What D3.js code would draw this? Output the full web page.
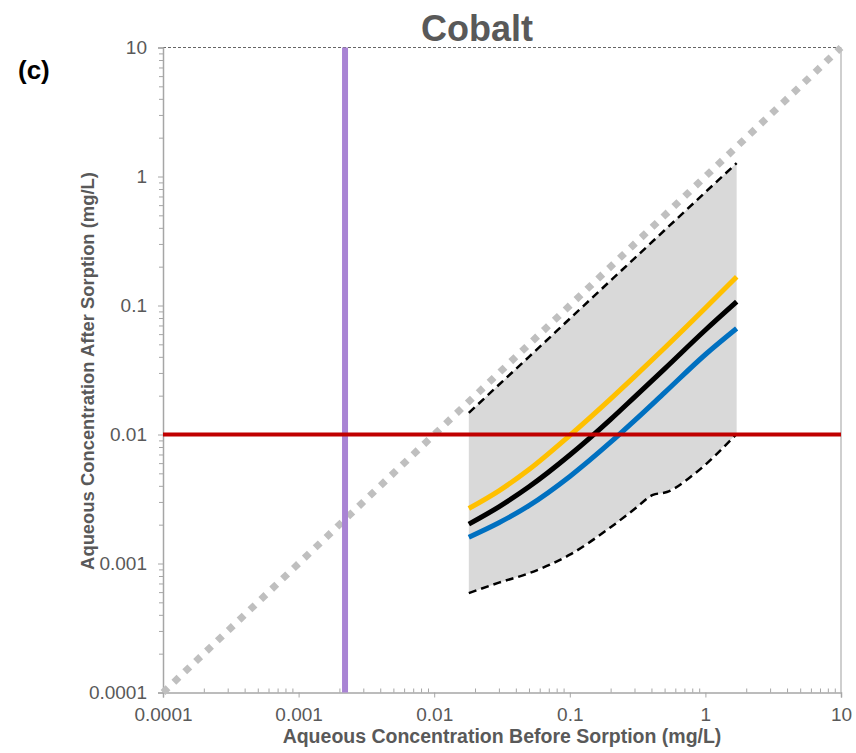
<!DOCTYPE html>
<html><head><meta charset="utf-8">
<script src="https://cdn.jsdelivr.net/npm/d3@7"></script>
<style>body{margin:0;background:#fff}svg{display:block;font-family:"Liberation Sans",Arial,sans-serif}</style>
</head><body><svg id="c" width="856" height="753"></svg>
<script>
// ---- data ----
const xTicks = [0.0001, 0.001, 0.01, 0.1, 1, 10];
const xTickLabels = ["0.0001", "0.001", "0.01", "0.1", "1", "10"];
const yTicks = [0.0001, 0.001, 0.01, 0.1, 1, 10];
const yTickLabels = ["0.0001", "0.001", "0.01", "0.1", "1", "10"];
const curveX = [0.018, 0.03, 0.05, 0.1, 0.2, 0.3, 0.5, 1.0, 1.7];
const yellowY = [0.00267, 0.00366, 0.00535, 0.00984, 0.0189, 0.0281, 0.0468, 0.0955, 0.167];
const blackY  = [0.00202, 0.00275, 0.00393, 0.00693, 0.0131, 0.0195, 0.0323, 0.0646, 0.107];
const blueY   = [0.00160, 0.00207, 0.00281, 0.00473, 0.00871, 0.0128, 0.0211, 0.0417, 0.0664];
const upperY  = [0.0147, 0.0243, 0.0400, 0.0790, 0.156, 0.232, 0.383, 0.756, 1.27];
const lowerX  = [0.018, 0.03, 0.05, 0.1, 0.2, 0.3, 0.41, 0.52, 0.81, 1.7];
const lowerY  = [0.00059, 0.00071, 0.00084, 0.00117, 0.00191, 0.00264, 0.0034, 0.00358, 0.00485, 0.0101];
const diagonal = [[0.0001, 0.0001], [10, 10]];
const purpleX = 0.0022;   // vertical reference
const redY = 0.01;        // horizontal reference
const title = "Cobalt";
const panel = "(c)";
const xTitle = "Aqueous Concentration Before Sorption (mg/L)";
const yTitle = "Aqueous Concentration After Sorption (mg/L)";

// ---- drawing ----
const svg = d3.select("#c");
const x = d3.scaleLog().domain([1e-4, 10]).range([163, 841]);
const y = d3.scaleLog().domain([1e-4, 10]).range([692.5, 47.5]);
const [x0, x1] = x.range(), [y0, y1] = y.range();
const gridCol = "#a6a6a6", textCol = "#595959";

// gray band
const band = curveX.map((v, i) => [v, upperY[i]]).concat(lowerX.map((v, i) => [v, lowerY[i]]).reverse());
svg.append("path")
  .attr("d", d3.line().x(d => x(d[0])).y(d => y(d[1])).curve(d3.curveLinear)(band) + "Z")
  .attr("fill", "#d9d9d9");

// frame
svg.append("line").attr("x1", x0).attr("x2", x1).attr("y1", y1).attr("y2", y1)
  .attr("stroke", "#666").attr("stroke-width", 1).attr("stroke-dasharray", "3,2");
svg.append("line").attr("x1", x1).attr("x2", x1).attr("y1", y1).attr("y2", y0)
  .attr("stroke", "#bfbfbf").attr("stroke-width", 1.5);

// axes
const minor = [];
for (let e = -4; e < 1; e++) for (let m = 2; m <= 9; m++) minor.push(m * Math.pow(10, e));
const xAxis = svg.append("g").attr("transform", `translate(0,${y0})`)
  .call(d3.axisBottom(x).tickValues(xTicks).tickFormat((d, i) => xTickLabels[i]).tickSize(5).tickPadding(10));
const yAxis = svg.append("g").attr("transform", `translate(${x0},0)`)
  .call(d3.axisLeft(y).tickValues(yTicks).tickFormat((d, i) => yTickLabels[i]).tickSize(5).tickPadding(11));
svg.append("g").attr("transform", `translate(0,${y0})`)
  .call(d3.axisBottom(x).tickValues(minor).tickFormat("").tickSize(-4).tickSizeOuter(0))
  .call(g => g.select(".domain").remove());
svg.append("g").attr("transform", `translate(${x0},0)`)
  .call(d3.axisLeft(y).tickValues(minor).tickFormat("").tickSize(4).tickSizeOuter(0))
  .call(g => g.select(".domain").remove());
svg.selectAll(".domain").attr("stroke", gridCol).attr("stroke-width", 1.5);
svg.selectAll(".tick line").attr("stroke", gridCol);
[xAxis, yAxis].forEach(g => g.selectAll("text").attr("fill", textCol).attr("font-size", 19));

// diagonal 1:1
svg.append("path")
  .attr("d", d3.line().x(d => x(d[0])).y(d => y(d[1]))(diagonal))
  .attr("fill", "none").attr("stroke", "#bfbfbf").attr("stroke-width", 7).attr("stroke-dasharray", "7,8");

const line = d3.line().x(d => x(d[0])).y(d => y(d[1])).curve(d3.curveMonotoneX);
function draw(xs, ys, col, w, dash) {
  const p = svg.append("path").attr("d", line(xs.map((v, i) => [v, ys[i]])))
    .attr("fill", "none").attr("stroke", col).attr("stroke-width", w);
  if (dash) p.attr("stroke-dasharray", dash);
}
draw(curveX, upperY, "#000", 2.5, "8,5");
draw(lowerX, lowerY, "#000", 2.5, "8,5");

// purple vertical
svg.append("line").attr("x1", x(purpleX)).attr("x2", x(purpleX)).attr("y1", y1).attr("y2", y0)
  .attr("stroke", "#a984d4").attr("stroke-width", 6);

draw(curveX, yellowY, "#ffc000", 5);
draw(curveX, blackY, "#000", 5);
draw(curveX, blueY, "#0070c0", 5);

// red horizontal
svg.append("line").attr("x1", x0).attr("x2", x1).attr("y1", y(redY)).attr("y2", y(redY))
  .attr("stroke", "#c00000").attr("stroke-width", 4);

// texts
svg.append("text").attr("x", 477).attr("y", 41).attr("text-anchor", "middle")
  .attr("font-size", 36).attr("font-weight", "bold").attr("fill", textCol).text(title);
svg.append("text").attr("x", 18).attr("y", 79)
  .attr("font-size", 26).attr("font-weight", "bold").attr("fill", "#000").text(panel);
svg.append("text").attr("x", 502).attr("y", 743).attr("text-anchor", "middle")
  .attr("font-size", 19.5).attr("font-weight", "bold").attr("fill", textCol).text(xTitle);
svg.append("text").attr("transform", "translate(94,371) rotate(-90)").attr("text-anchor", "middle")
  .attr("font-size", 18.4).attr("font-weight", "bold").attr("fill", textCol).text(yTitle);
</script></body></html>
